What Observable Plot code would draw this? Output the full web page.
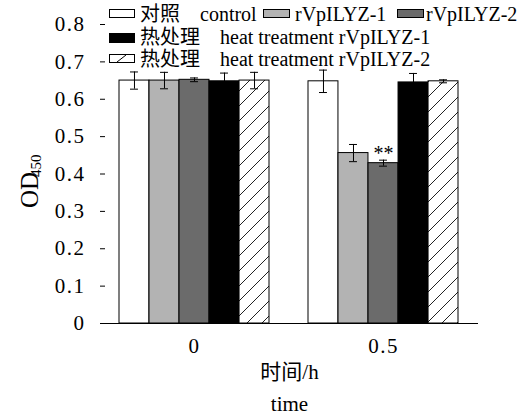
<!DOCTYPE html>
<html>
<head>
<meta charset="utf-8">
<script src="https://cdn.jsdelivr.net/npm/d3@7"></script>
<script src="https://cdn.jsdelivr.net/npm/@observablehq/plot@0.6"></script>
<style>
  html, body { margin: 0; padding: 0; background: #fff; }
  #wrap { position: relative; width: 526px; height: 415px; overflow: hidden; }
  #legend { position: absolute; left: 0; top: 0; width: 526px; height: 70px; pointer-events: none;
    font-family: "Liberation Serif", "Times New Roman", "Noto Sans CJK SC", serif; font-size: 20px; color: #000; }
  #legend .t { position: absolute; line-height: 20px; white-space: nowrap; }
  #legend .sw { position: absolute; box-sizing: border-box; border: 1px solid #000; }
  g[aria-label="y-axis tick label"] text, g[aria-label="x-axis tick label"] text { letter-spacing: 1.5px; }
</style>
</head>
<body>
<div id="wrap"><div id="chart"></div><div id="legend"></div></div>
<script>
// ---- data ----
const times = ["0", "0.5"];
const seriesNames = ["对照 control", "rVpILYZ-1", "rVpILYZ-2", "热处理 heat treatment rVpILYZ-1", "热处理 heat treatment rVpILYZ-2"];
const controlMean = [0.650, 0.648];
const controlErr  = [0.023, 0.030];
const ilyz1Mean   = [0.650, 0.456];
const ilyz1Err    = [0.022, 0.023];
const ilyz2Mean   = [0.652, 0.429];
const ilyz2Err    = [0.005, 0.008];
const heat1Mean   = [0.648, 0.645];
const heat1Err    = [0.022, 0.024];
const heat2Mean   = [0.650, 0.648];
const heat2Err    = [0.022, 0.004];
const yTicks = [0, 0.1, 0.2, 0.3, 0.4, 0.5, 0.6, 0.7, 0.8];
const significance = [{time: "0.5", series: 2, label: "**"}];
const xTitle = ["时间/h", "time"];
const yTitle = ["OD", "450"];

// ---- build ----
const seriesMeans = [controlMean, ilyz1Mean, ilyz2Mean, heat1Mean, heat2Mean];
const seriesErrs = [controlErr, ilyz1Err, ilyz2Err, heat1Err, heat2Err];
const fills = ["#ffffff", "#b3b3b3", "#6b6b6b", "#000000", "url(#hatch)"];
const rows = seriesMeans.flatMap((m, s) => times.map((t, j) => ({time: t, s, v: m[j], e: seriesErrs[s][j]})));

const W = 526, H = 415, mL = 100, mR = 48, mT = 24, mB = 92;
const pInner = 0.206, pOuter = 0.103;
const n = seriesMeans.length;
const bw = (W - mL - mR) / (times.length - pInner + 2 * pOuter) * (1 - pInner);
const w = bw / n;
const capHalf = 4;

const marks = [];
seriesMeans.forEach((m, s) => {
  const data = rows.filter(d => d.s === s);
  marks.push(Plot.barY(data, {x: "time", y: "v", fill: fills[s], stroke: "#000", strokeWidth: 1,
    insetLeft: s * w, insetRight: (n - 1 - s) * w}));
});
seriesMeans.forEach((m, s) => {
  const data = rows.filter(d => d.s === s);
  const off = (s - (n - 1) / 2) * w;
  const capInL = s * w + w / 2 - capHalf, capInR = (n - 1 - s) * w + w / 2 - capHalf;
  marks.push(Plot.ruleX(data, {x: "time", y1: d => d.v - d.e, y2: d => d.v + d.e, dx: off, stroke: "#000", strokeWidth: 1}));
  marks.push(Plot.tickY(data, {x: "time", y: d => d.v + d.e, insetLeft: capInL, insetRight: capInR, stroke: "#000", strokeWidth: 1}));
  marks.push(Plot.tickY(data, {x: "time", y: d => d.v - d.e, insetLeft: capInL, insetRight: capInR, stroke: "#000", strokeWidth: 1}));
});
const sigRows = significance.map(d => {
  const j = times.indexOf(d.time);
  return {time: d.time, label: d.label, top: seriesMeans[d.series][j] + seriesErrs[d.series][j]};
});
marks.push(Plot.text(sigRows, {x: "time", y: "top", text: "label", dy: -7, fontSize: 20}));
marks.push(Plot.ruleY([0], {stroke: "#000", strokeWidth: 1}));
marks.push(Plot.axisY({ticks: yTicks, tickFormat: d => String(d), tickSize: -5, tickPadding: 20, fontSize: 21, line: true, label: null}));
marks.push(Plot.axisX({tickSize: 0, tickPadding: 15, fontSize: 21, label: null}));
marks.push(Plot.text([xTitle[0]], {frameAnchor: "bottom", dy: 55, fontSize: 21}));
marks.push(Plot.text([xTitle[1]], {frameAnchor: "bottom", dy: 87, fontSize: 21}));
marks.push(Plot.text([yTitle[0]], {frameAnchor: "left", rotate: -90, dx: -71, dy: 34, fontSize: 25}));
marks.push(Plot.text([yTitle[1]], {frameAnchor: "left", rotate: -90, dx: -64, dy: 3, fontSize: 15}));

const chart = Plot.plot({
  width: W, height: H,
  marginLeft: mL, marginRight: mR, marginTop: mT, marginBottom: mB,
  style: {fontFamily: "'Liberation Serif','Times New Roman','Noto Sans CJK SC',serif", fontSize: "21px", background: "#fff", color: "#000"},
  x: {domain: times, paddingInner: pInner, paddingOuter: pOuter, axis: null},
  y: {domain: [0, 0.8], axis: null},
  marks
});
d3.select(chart).insert("defs", ":first-child").html(
  `<pattern id="hatch" patternUnits="userSpaceOnUse" width="15" height="15">
     <rect width="15" height="15" fill="#fff"/>
     <path d="M-2,17 L17,-2 M-2,2 L2,-2 M13,17 L17,13" stroke="#222" stroke-width="1"/>
   </pattern>`);
document.getElementById("chart").appendChild(chart);

// ---- legend (HTML overlay) ----
const legend = document.getElementById("legend");
const legendItems = [
  {sw: 0, box: [109, 9, 26, 9], texts: [["对照", 140], ["control", 200]], cy: 14},
  {sw: 1, box: [263, 9, 27, 9], texts: [[seriesNames[1], 295]], cy: 14},
  {sw: 2, box: [397, 9, 27, 9], texts: [[seriesNames[2], 426]], cy: 14},
  {sw: 3, box: [109, 33, 26, 10], texts: [["热处理", 140], ["heat treatment rVpILYZ-1", 220]], cy: 37},
  {sw: 4, box: [109, 54, 26, 9], texts: [["热处理", 140], ["heat treatment rVpILYZ-2", 220]], cy: 59}
];
legendItems.forEach(it => {
  const [x, y, bwid, bh] = it.box;
  if (it.sw === 4) {
    const ns = "http://www.w3.org/2000/svg";
    const svg = document.createElementNS(ns, "svg");
    svg.setAttribute("width", bwid); svg.setAttribute("height", bh);
    svg.style.position = "absolute"; svg.style.left = x + "px"; svg.style.top = y + "px";
    svg.innerHTML = `<rect x="0.5" y="0.5" width="${bwid - 1}" height="${bh - 1}" fill="#fff" stroke="#000"/><line x1="8" y1="${bh - 1}" x2="17" y2="1" stroke="#000"/>`;
    legend.appendChild(svg);
  } else {
    const d = document.createElement("div");
    d.className = "sw";
    Object.assign(d.style, {left: x + "px", top: y + "px", width: bwid + "px", height: bh + "px", background: fills[it.sw]});
    legend.appendChild(d);
  }
  it.texts.forEach(([txt, tx]) => {
    const d = document.createElement("div");
    d.className = "t";
    d.textContent = txt;
    Object.assign(d.style, {left: tx + "px", top: (it.cy - 10) + "px"});
    legend.appendChild(d);
  });
});
</script>
</body>
</html>
